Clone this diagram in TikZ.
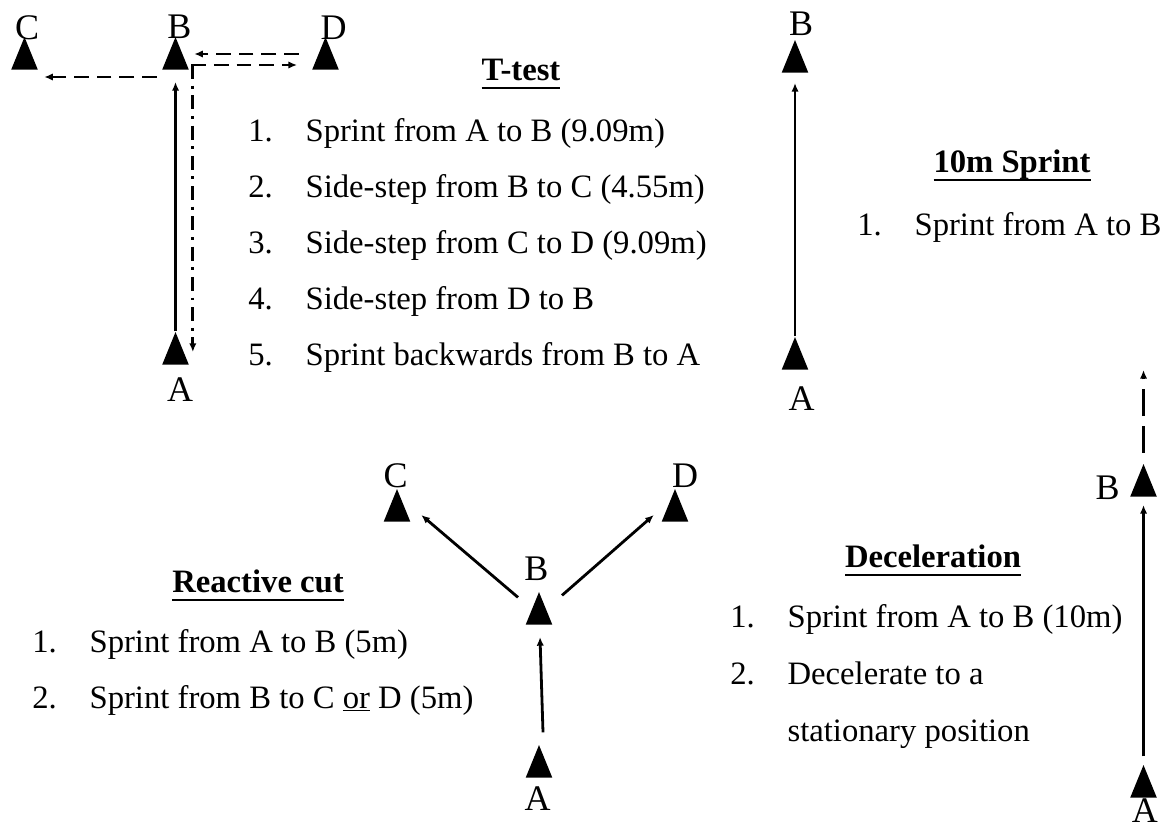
\documentclass[tikz,border=0pt]{standalone}
\usepackage{fontspec}
\setmainfont{Liberation Serif}
\usetikzlibrary{arrows.meta,shapes.geometric,positioning}

\newsavebox{\ttlbox}
\newcommand{\drilltitle}[1]{\sbox{\ttlbox}{\textbf{#1}}\rlap{\rule[-6.6pt]{\wd\ttlbox}{1.5pt}}\usebox{\ttlbox}}
\newcommand{\listnum}[1]{\makebox[43pt][l]{#1}}

\tikzset{
  cone/.style={isosceles triangle, isosceles triangle stretches, shape border rotate=90,
    fill=black, inner sep=0pt, minimum width=20pt, minimum height=24.5pt, anchor=south},
  conelbl/.style={anchor=base, inner sep=0pt, font=\fontsize{27pt}{31pt}\selectfont},
  listitem/.style={anchor=base west, inner sep=0pt},
  drillttl/.style={anchor=base, inner sep=0pt},
  sprintarrow/.style={->, line width=2.1pt},
  sidearrow/.style={->, line width=2.1pt, dash pattern=on 11pt off 6pt},
  backarrow/.style={->, line width=2.1pt, dash pattern=on 10.5pt off 5pt on 2.2pt off 5pt},
  decelarrow/.style={->, line width=2.1pt, dash pattern=on 20pt off 7.5pt},
}

\begin{document}
\begin{tikzpicture}[x=0.75pt, y=-0.75pt, >={Latex[length=6.5pt,width=5.5pt]},
  font=\fontsize{24.5pt}{29pt}\selectfont]
    \useasboundingbox (0,0) rectangle (1170,832);

    %% T-test
    \node[cone] (tC) at (24.5,70) {};
    \node[cone] (tB) at (175.5,70) {};
    \node[cone] (tD) at (325.5,70) {};
    \node[cone] (tA) at (175.5,365) {};
    \node at (tC.apex) [conelbl, xshift=2pt, yshift=-2.5pt] (tClbl) {C};
    \node at (tB.apex) [conelbl, xshift=3pt, yshift=-1.5pt] (tBlbl) {B};
    \node at (tD.apex) [conelbl, xshift=6pt, yshift=-2.5pt] (tDlbl) {D};
    \node at (tA.south) [conelbl, xshift=3.5pt, yshift=-27pt] (tAlbl) {A};

    \node at (521,80) [drillttl] (tttl) {\drilltitle{T-test}};
    \node at (248,141) [listitem] (titem1) {\listnum{1.}Sprint from A to B (9.09m)};
    \node at (titem1.base west) [listitem, yshift=-42pt] (titem2) {\listnum{2.}Side-step from B to C (4.55m)};
    \node at (titem2.base west) [listitem, yshift=-42pt] (titem3) {\listnum{3.}Side-step from C to D (9.09m)};
    \node at (titem3.base west) [listitem, yshift=-42pt] (titem4) {\listnum{4.}Side-step from D to B};
    \node at (titem4.base west) [listitem, yshift=-42pt] (titem5) {\listnum{5.}Sprint backwards from B to A};

    %% 10m Sprint
    \node[cone] (sB) at (795,73) {};
    \node[cone] (sA) at (795,370) {};
    \node at (sB.apex) [conelbl, xshift=4.5pt, yshift=3pt] (sBlbl) {B};
    \node at (sA.south) [conelbl, xshift=5pt, yshift=-30pt] (sAlbl) {A};

    \node at (1012,172) [drillttl] (sttl) {\drilltitle{10m Sprint}};
    \node at (857,235) [listitem] (sitem1) {\listnum{1.}Sprint from A to B};

    %% Reactive cut
    \node[cone] (rC) at (397,522) {};
    \node[cone] (rD) at (675,522) {};
    \node[cone] (rB) at (539,625) {};
    \node[cone] (rA) at (539,778) {};
    \node at (rC.apex) [conelbl, xshift=-1pt, yshift=1pt] (rClbl) {C};
    \node at (rD.apex) [conelbl, xshift=7.5pt, yshift=1pt] (rDlbl) {D};
    \node at (rB.apex) [conelbl, xshift=-2pt, yshift=8pt] (rBlbl) {B};
    \node at (rA.south) [conelbl, xshift=-1pt, yshift=-24pt] (rAlbl) {A};

    \node at (258,592) [drillttl] (rttl) {\drilltitle{Reactive cut}};
    \node at (32,652) [listitem] (ritem1) {\listnum{1.}Sprint from A to B (5m)};
    \node at (ritem1.base west) [listitem, yshift=-42pt] (ritem2) {\listnum{2.}Sprint from B to C \underline{or} D (5m)};

    %% Deceleration
    \node[cone] (dB) at (1143.5,497) {};
    \node[cone] (dA) at (1143.5,798) {};
    \node at (dB.left corner) [anchor=base east, inner sep=0pt, xshift=-7.5pt, yshift=-2pt, font=\fontsize{27pt}{31pt}\selectfont] (dBlbl) {B};
    \node at (dA.south) [conelbl, xshift=1pt, yshift=-18pt] (dAlbl) {A};
    \coordinate (dEnd) at (1143.5,370);

    \node at (933,567) [drillttl] (dttl) {\drilltitle{Deceleration}};
    \node at (730,627) [listitem] (ditem1) {\listnum{1.}Sprint from A to B (10m)};
    \node at (ditem1.base west) [listitem, yshift=-43pt] (ditem2) {\listnum{2.}Decelerate to a};
    \node at (ditem2.base west) [listitem, xshift=43pt, yshift=-43pt] (ditem3) {stationary position};

    %% Arrows
    \draw [sprintarrow, shorten >=9pt] (tA.apex) -- (tB.south);
    \draw [backarrow] ([xshift=13pt, yshift=3.75pt]tB.south) -- ([xshift=13pt, yshift=9.75pt]tA.south);
    \draw [sidearrow] ([xshift=1.5pt, yshift=3.75pt]tB.right corner) -- ([xshift=-11pt, yshift=3.75pt]tD.left corner);
    \draw [sidearrow] ([xshift=-9.75pt, yshift=12pt]tD.left corner) -- ([xshift=3.75pt, yshift=12pt]tB.right corner);
    \draw [sidearrow] ([xshift=-3.75pt, yshift=-5.25pt]tB.left corner) -- ([xshift=4.5pt, yshift=-5.25pt]tC.right corner);
    \draw [sprintarrow, shorten >=7.5pt] (sA.apex) -- (sB.south);
    \draw [sprintarrow] ([xshift=3pt, yshift=9pt]rA.apex) -- ([xshift=0.75pt, yshift=-9pt]rB.south);
    \draw [sprintarrow] ([xshift=-15.75pt, yshift=-4.5pt]rB.apex) -- ([xshift=7.9pt, yshift=5.25pt]rC.right corner);
    \draw [sprintarrow] ([xshift=17.25pt, yshift=-3pt]rB.apex) -- ([xshift=-5.6pt, yshift=5.25pt]rD.left corner);
    \draw [sprintarrow] ([yshift=6pt]dA.apex) -- ([yshift=-6pt]dB.south);
    \draw [decelarrow] ([yshift=8pt]dB.apex) -- (dEnd);
\end{tikzpicture}
\end{document}
